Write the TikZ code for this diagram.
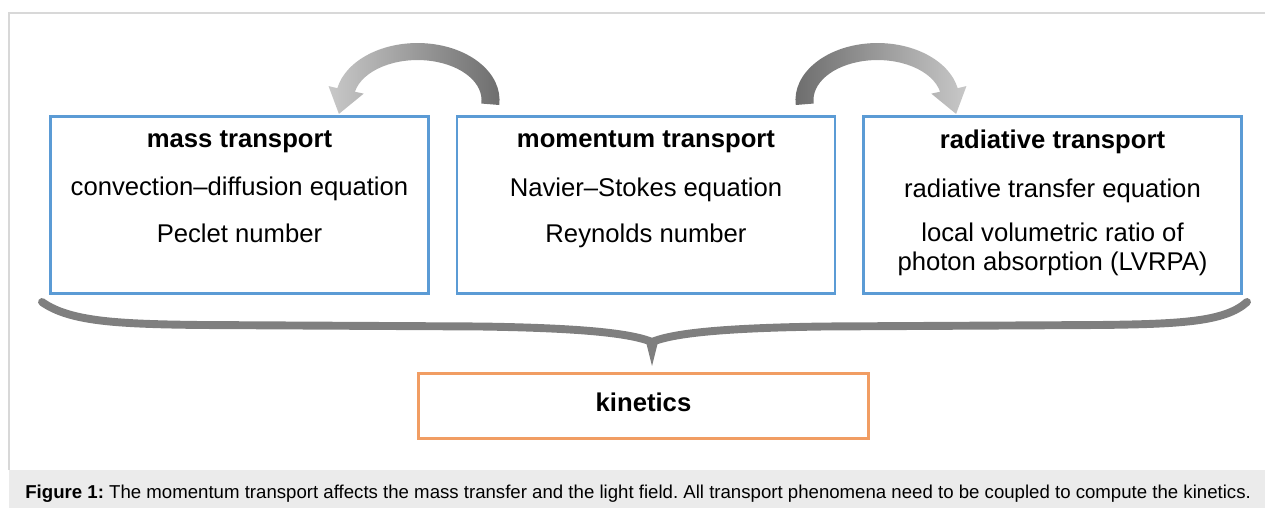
\documentclass[tikz,border=0pt]{standalone}
\usepackage{fontspec}
\setmainfont{Liberation Sans}
\usetikzlibrary{positioning}
\usetikzlibrary{calc}
\definecolor{mblue}{RGB}{91,155,213}
\definecolor{morange}{RGB}{241,157,99}
\definecolor{mgray}{RGB}{127,127,127}
\definecolor{mlight}{RGB}{200,200,200}
\definecolor{mdark}{RGB}{108,108,108}
\definecolor{mband}{RGB}{235,235,235}
\definecolor{mframe}{RGB}{216,216,216}
\tikzset{phenom/.style = {draw=mblue, line width=1.7pt, minimum width=7.56cm,
                          minimum height=3.54cm, inner sep=0}}
\tikzset{kinbox/.style = {draw=morange, line width=1.7pt, minimum width=9cm,
                          minimum height=1.3cm, inner sep=0, text depth=0.4em,
                          font=\fontsize{14.6}{16.5}\selectfont\bfseries}}
\tikzset{boxtext/.style = {align=center, inner sep=0,
                           font=\fontsize{14.6}{16.5}\selectfont}}
\tikzset{caption/.style = {inner sep=0, font=\fontsize{10.6}{13}\selectfont\frenchspacing}}

\begin{document}
\begin{tikzpicture}
    \useasboundingbox (0, 0) rectangle (25.3, 10.16);

    % frame and caption band
    \fill [mband] (0.18, 0) rectangle (25.3, 0.76);
    \draw [mframe, line width=0.6pt] (0.18, 0.76) -- (0.18, 9.9) -- (25.3, 9.9);

    \node [phenom] (mass) at (4.79, 6.06) {};
    \node [phenom] (momentum) at (12.92, 6.06) {};
    \node [phenom] (radiative) at (21.05, 6.06) {};
    \node [kinbox] (kinetics) at (12.87, 2.04) {kinetics};

    \node [boxtext, below=0.3cm of mass.north] (massT)
      {\textbf{mass transport}\\[11pt] convection–diffusion equation\\[10.2pt] Peclet number};
    \node [boxtext, below=0.3cm of momentum.north] (momentumT)
      {\textbf{momentum transport}\\[11.6pt] Navier–Stokes equation\\[9.6pt] Reynolds number};
    \node [boxtext, below=0.3cm of radiative.north] (radiativeT)
      {\textbf{radiative transport}\\[11.4pt] radiative transfer equation\\[8.5pt]
       local volumetric ratio of\\ photon absorption (LVRPA)};

    % curved arrows
    \shade [left color=mlight, right color=mdark]
      ($(momentum.north west)+(0.874, 0.2)$)
      arc [start angle=-5, end angle=168, x radius=1.64, y radius=1.14]
      -- ++(-0.176, 0.043) -- ++(0.208, -0.558) -- ++(0.496, 0.406) -- ++(-0.176, 0.038)
      arc [start angle=168, end angle=-5, x radius=1.28, y radius=0.8] -- cycle;
    \shade [left color=mdark, right color=mlight]
      ($(momentum.north east)+(-0.814, 0.2)$)
      arc [start angle=185, end angle=12, x radius=1.64, y radius=1.14]
      -- ++(0.176, 0.043) -- ++(-0.208, -0.558) -- ++(-0.496, 0.406) -- ++(0.176, 0.038)
      arc [start angle=12, end angle=185, x radius=1.28, y radius=0.8] -- cycle;

    % brace
    \draw [mgray, line width=4.5pt, line cap=round]
      (0.84, 4.12) .. controls (1.4, 3.72) and (2.4, 3.68) .. (4.0, 3.66)
      -- (9.6, 3.63) .. controls (11.6, 3.60) and (12.6, 3.50) .. (13.04, 3.32)
      .. controls (13.48, 3.50) and (14.48, 3.60) .. (16.48, 3.63)
      -- (22.0, 3.66) .. controls (23.6, 3.68) and (24.5, 3.72) .. (24.94, 4.12);
    \fill [mgray] (12.9, 3.40) -- (13.18, 3.40) -- (13.04, 2.84) -- cycle;

    \node [caption, anchor=west] (capt) at (0.5, 0.28)
      {\textbf{Figure 1:} The momentum transport affects the mass transfer and the light field. All transport phenomena need to be coupled to compute the kinetics.};
\end{tikzpicture}
\end{document}
